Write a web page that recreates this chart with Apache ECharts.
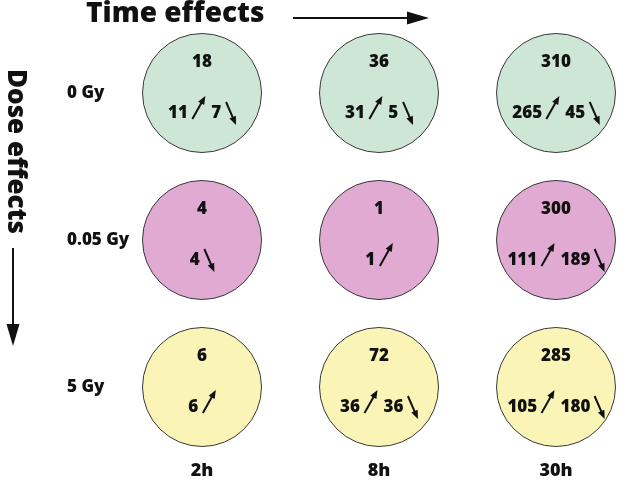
<!DOCTYPE html>
<html>
<head>
<meta charset="utf-8">
<script src="https://cdn.jsdelivr.net/npm/echarts@6/dist/echarts.min.js"></script>
<style>html,body{margin:0;padding:0;background:#fff;}#c{width:629px;height:483px;}</style>
</head>
<body>
<div id="c"></div>
<script>
const times = ['2h', '8h', '30h'];
const doses = ['0 Gy', '0.05 Gy', '5 Gy'];
const totals = [[18, 36, 310], [4, 1, 300], [6, 72, 285]];
const upCounts = [[11, 31, 265], [null, 1, 111], [6, 36, 105]];
const downCounts = [[7, 5, 45], [4, null, 189], [null, 36, 180]];
const rowColors = ['#cde6d5', '#e0aad2', '#faf4b6'];

const FONT = '"Open Sans", "Noto Sans", sans-serif';
const data = [];
doses.forEach((d, r) => times.forEach((t, c) => {
  data.push([c, r, totals[r][c], upCounts[r][c], downCounts[r][c]]);
}));

function arrow(x0, y0, x1, y1) {
  const dx = x1 - x0, dy = y1 - y0, len = Math.hypot(dx, dy);
  const ux = dx / len, uy = dy / len, nx = -uy, ny = ux;
  const L = 8.5, W = 7;
  const bx = x1 - ux * L, by = y1 - uy * L;
  return [
    { type: 'line', shape: { x1: x0, y1: y0, x2: bx + ux, y2: by + uy }, style: { stroke: '#111', lineWidth: 2 } },
    { type: 'polygon', shape: { points: [[x1, y1], [bx + nx * W / 2, by + ny * W / 2], [bx - nx * W / 2, by - ny * W / 2]] }, style: { fill: '#111' } }
  ];
}

function renderItem(params, api) {
  const p = api.coord([api.value(0), api.value(1)]);
  const cx = p[0], cy = p[1];
  const r = api.value(1);
  const total = api.value(2), up = api.value(3), down = api.value(4);
  const numFont = '800 17px ' + FONT;
  const children = [
    { type: 'circle', shape: { cx: cx, cy: cy, r: 59.5 }, style: { fill: rowColors[r], stroke: '#3a3a3a', lineWidth: 1 } },
    { type: 'text', style: { x: cx, y: cy - 31, text: String(total), font: numFont, fill: '#111', align: 'center', verticalAlign: 'middle' } }
  ];
  const dw = 9.7, gapA = 5, gapM = 6, upW = 13, dnW = 10;
  const hasUp = up !== null && up !== undefined && !isNaN(up);
  const hasDn = down !== null && down !== undefined && !isNaN(down);
  let w = 0;
  if (hasUp) w += String(up).length * dw + gapA + upW;
  if (hasUp && hasDn) w += gapM;
  if (hasDn) w += String(down).length * dw + gapA + dnW;
  let x = cx - w / 2;
  const ty = cy + 20;
  if (hasUp) {
    const tw = String(up).length * dw;
    children.push({ type: 'text', style: { x: x, y: ty, text: String(up), font: numFont, fill: '#111', align: 'left', verticalAlign: 'middle' } });
    x += tw + gapA;
    children.push(...arrow(x, cy + 26, x + upW, cy + 3));
    x += upW;
  }
  if (hasUp && hasDn) x += gapM;
  if (hasDn) {
    const tw = String(down).length * dw;
    children.push({ type: 'text', style: { x: x, y: ty, text: String(down), font: numFont, fill: '#111', align: 'left', verticalAlign: 'middle' } });
    x += tw + gapA;
    children.push(...arrow(x, cy + 9, x + dnW, cy + 32));
  }
  return { type: 'group', children: children };
}

const chart = echarts.init(document.getElementById('c'), null, { renderer: 'canvas' });
chart.setOption({
  animation: false,
  backgroundColor: '#fff',
  grid: { left: 202, right: 73, top: 93, bottom: 96 },
  xAxis: {
    type: 'category', data: times, boundaryGap: false,
    axisLine: { show: false }, axisTick: { show: false }, splitLine: { show: false },
    axisLabel: { margin: 75, fontFamily: FONT, fontWeight: 800, fontSize: 18, color: '#111' }
  },
  yAxis: {
    type: 'category', data: doses, inverse: true, boundaryGap: false,
    axisLine: { show: false }, axisTick: { show: false }, splitLine: { show: false },
    axisLabel: { margin: 135, align: 'left', fontFamily: FONT, fontWeight: 800, fontSize: 17, color: '#111' }
  },
  graphic: [
    { type: 'text', left: 86, top: 0, style: { text: 'Time effects', font: '800 28px ' + FONT, fill: '#111' } },
    { type: 'line', shape: { x1: 293, y1: 18, x2: 410, y2: 18 }, style: { stroke: '#111', lineWidth: 2 } },
    { type: 'polygon', shape: { points: [[429, 18], [407, 11.5], [407, 24.5]] }, style: { fill: '#111' } },
    { type: 'text', x: 2, y: 69, rotation: -Math.PI / 2, style: { text: 'Dose effects', font: '800 26px ' + FONT, fill: '#111', align: 'left', verticalAlign: 'bottom' } },
    { type: 'line', shape: { x1: 13, y1: 248, x2: 13, y2: 328 }, style: { stroke: '#111', lineWidth: 2 } },
    { type: 'polygon', shape: { points: [[13, 346], [6.5, 324], [19.5, 324]] }, style: { fill: '#111' } }
  ],
  series: [{ type: 'custom', renderItem: renderItem, data: data, encode: { x: 0, y: 1 } }]
});
</script>
</body>
</html>
